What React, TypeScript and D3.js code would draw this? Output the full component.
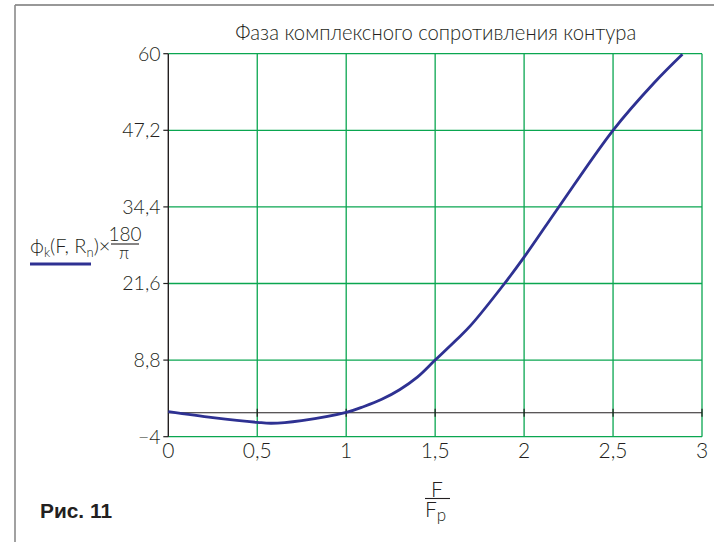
import React from "react";
import * as d3 from "d3";

// Phase of the circuit's complex impedance, degrees, vs. normalised frequency F/Fp
const freqRatio = [0, 0.25, 0.5, 0.58, 0.75, 1.0, 1.1, 1.2, 1.3, 1.4, 1.5, 1.62, 1.7, 1.89, 2.0, 2.2, 2.5, 2.73, 2.89];
const phaseDeg = [0.2, -0.8, -1.6, -1.75, -1.3, 0.05, 1.05, 2.25, 3.85, 5.95, 8.8, 12.2, 14.6, 21.6, 26.0, 34.6, 47.2, 55.1, 59.9];

const xTicks = [0, 0.5, 1, 1.5, 2, 2.5, 3];
const yTicks = [-4, 8.8, 21.6, 34.4, 47.2, 60];

const titleText = "Фаза комплексного сопротивления контура";
const figLabel = "Рис. 11";

const W = 714;
const H = 542;
const plot = { left: 168.3, right: 702, top: 53.7, bottom: 436.7 };

const GRID = "#0aa650";
const CURVE = "#2e3192";
const INK = "#231f20";
const FONT = "Lato, 'Open Sans', 'DejaVu Sans', sans-serif";

const fmt = (v: number) => String(v).replace(".", ",").replace("-", "\u2212");

export default function App() {
  const x = d3.scaleLinear().domain([0, 3]).range([plot.left, plot.right]);
  const y = d3.scaleLinear().domain([-4, 60]).range([plot.bottom, plot.top]);

  const line = d3
    .line<number>()
    .x((_, i) => x(freqRatio[i]))
    .y((d) => y(d))
    .curve(d3.curveCatmullRom.alpha(0.5));

  const y0 = y(0);

  return (
    <svg
      width={W}
      height={H}
      style={{ position: "absolute", left: 0, top: 0, background: "#fff" }}
      fontFamily={FONT}
    >
      {/* page frame */}
      <line x1={15} y1={5} x2={W} y2={5} stroke="#333" strokeWidth={1.2} />
      <line x1={15} y1={5} x2={15} y2={H} stroke="#8a8a8a" strokeWidth={1.6} />

      <text
        x={435.8}
        y={40}
        fontSize={21}
        fontWeight={300}
        fill={INK}
        textAnchor="middle"
        textLength={401}
        lengthAdjust="spacingAndGlyphs"
      >
        {titleText}
      </text>

      {/* grid */}
      {xTicks.filter((t) => t > 0).map((t) => (
        <line key={"gx" + t} x1={x(t)} x2={x(t)} y1={plot.top} y2={plot.bottom} stroke={GRID} strokeWidth={1.3} />
      ))}
      {yTicks.map((t) => (
        <line key={"gy" + t} x1={plot.left} x2={plot.right} y1={y(t)} y2={y(t)} stroke={GRID} strokeWidth={1.3} />
      ))}

      {/* zero line with ticks */}
      <line x1={plot.left} x2={plot.right} y1={y0} y2={y0} stroke={INK} strokeWidth={1.2} />
      {xTicks.filter((t) => t > 0).map((t) => (
        <line key={"zt" + t} x1={x(t)} x2={x(t)} y1={y0 - 4} y2={y0 + 4} stroke={INK} strokeWidth={1.2} />
      ))}

      {/* y axis */}
      <line x1={plot.left} x2={plot.left} y1={plot.top} y2={plot.bottom} stroke={INK} strokeWidth={1.4} />
      {yTicks.map((t) => (
        <g key={"yt" + t}>
          <line x1={plot.left - 5} x2={plot.left} y1={y(t)} y2={y(t)} stroke={INK} strokeWidth={1.2} />
          <text x={160.5} y={y(t) + 6.8} fontSize={19.5} fontWeight={300} fill={INK} textAnchor="end">
            {fmt(t)}
          </text>
        </g>
      ))}

      {xTicks.map((t) => (
        <text key={"xl" + t} x={x(t)} y={457.5} fontSize={21} fontWeight={300} fill={INK} textAnchor="middle">
          {fmt(t)}
        </text>
      ))}

      {/* curve */}
      <path d={line(phaseDeg) || ""} fill="none" stroke={CURVE} strokeWidth={2.8} strokeLinejoin="round" />

      {/* y axis label */}
      <text x={30} y={253} fontSize={20} fontWeight={300} fill={INK}>
        <tspan>ϕ</tspan>
        <tspan fontSize={13} dy={4}>k</tspan>
        <tspan dy={-4}>(F, R</tspan>
        <tspan fontSize={13} dy={4}>n</tspan>
        <tspan dy={-4}>)×</tspan>
      </text>
      <text x={125} y={240.5} fontSize={19} fontWeight={300} fill={INK} textAnchor="middle">180</text>
      <line x1={111} x2={139} y1={244} y2={244} stroke={INK} strokeWidth={1.1} />
      <text x={124} y={259} fontSize={17} fontWeight={300} fill={INK} textAnchor="middle" dominantBaseline="alphabetic">π</text>
      <line x1={30} x2={91} y1={264} y2={264} stroke={CURVE} strokeWidth={3} />

      {/* x axis label */}
      <text x={437} y={497} fontSize={21} fontWeight={300} fill={INK} textAnchor="middle">F</text>
      <line x1={425} x2={450} y1={498.5} y2={498.5} stroke={INK} strokeWidth={1.1} />
      <text x={425} y={517} fontSize={21} fontWeight={300} fill={INK}>
        F<tspan fontSize={17} dy={4}>p</tspan>
      </text>

      <text
        x={40}
        y={518}
        fontSize={21}
        fontWeight={700}
        fill={INK}
        fontFamily="'Liberation Sans Narrow', 'Liberation Sans', Arial, sans-serif"
        textLength={72}
        lengthAdjust="spacingAndGlyphs"
      >
        {figLabel}
      </text>
    </svg>
  );
}
